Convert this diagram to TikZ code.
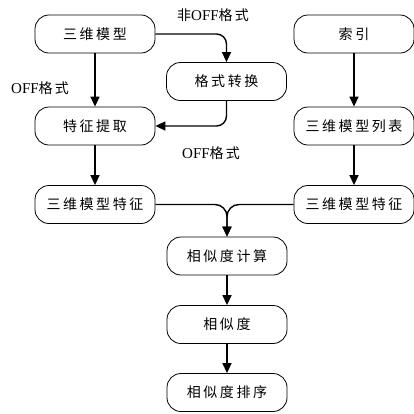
\documentclass[tikz,border=0pt]{standalone}
\usepackage{fontspec}
\setmainfont{Liberation Serif}
\newfontfamily\cjk[LetterSpace=18]{Noto Sans CJK SC}
\newfontfamily\cjklab[LetterSpace=15]{Noto Sans CJK SC}
\usetikzlibrary{arrows.meta}
\begin{document}
\begin{tikzpicture}[x=1pt,y=-1pt,
  box/.style={draw,line width=0.8pt,rounded corners=14pt,minimum width=120pt,minimum height=38pt,inner sep=0pt,font=\cjk\fontsize{14}{16}\selectfont},
  conn/.style={line width=1.4pt,-{Triangle[width=9pt,length=10pt]}},
  lab/.style={font=\fontsize{15}{17}\selectfont}]
\useasboundingbox (0,0) rectangle (414,413);
\node[box] (m3) at (95,34) {三维模型};
\node[box] (tz) at (95,126) {特征提取};
\node[box] (gs) at (226.5,81.5) {格式转换};
\node[box] (sy) at (354,34) {索引};
\node[box] (lb) at (354,126) {三维模型列表};
\node[box] (fl) at (95,204.5) {三维模型特征};
\node[box] (fr) at (354,204.5) {三维模型特征};
\node[box] (js) at (227,256) {相似度计算};
\node[box] (xs) at (227,324.5) {相似度};
\node[box] (px) at (227,392.5) {相似度排序};
\draw[conn] (m3) -- (tz);
\draw[conn,rounded corners=10pt] (m3.east) -| (gs.north);
\draw[conn,rounded corners=10pt] (gs.south) |- (tz.east);
\draw[conn] (sy) -- (lb);
\draw[conn] (tz) -- (fl);
\draw[conn] (lb) -- (fr);
\draw[conn,rounded corners=12pt] (fl.east) -| (js.north);
\draw[conn,rounded corners=12pt] (fr.west) -| (js.north);
\draw[conn] (js) -- (xs);
\draw[conn] (xs) -- (px);
\node[lab] (l1) at (40,88) {OFF{\cjklab\fontsize{14}{16}\selectfont 格式}};
\node[lab] (l2) at (213,15) {{\cjklab\fontsize{14}{16}\selectfont 非}OFF{\cjklab\fontsize{14}{16}\selectfont 格式}};
\node[lab] (l3) at (211,153) {OFF{\cjklab\fontsize{14}{16}\selectfont 格式}};
\end{tikzpicture}
\end{document}
